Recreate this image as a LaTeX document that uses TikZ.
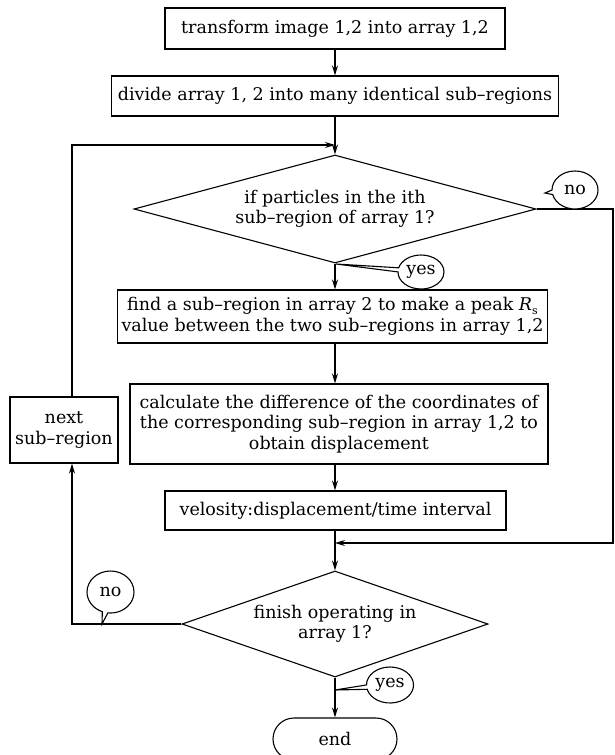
\documentclass[tikz,border=0pt]{standalone}
\usepackage{fontspec}
\setmainfont{DejaVu Serif}
\usetikzlibrary{shapes.geometric,shapes.misc,shapes.callouts,arrows.meta}
\begin{document}
\begin{tikzpicture}[x=1pt,y=-1pt,
  line width=1.1pt,
  every node/.style={font=\fontsize{17.5}{20.5}\selectfont},
  box/.style={draw, rectangle, align=center, inner xsep=6pt, inner ysep=0pt},
  dia/.style={draw, diamond, inner sep=0pt},
  txt/.style={align=center, inner sep=0pt},
  bubble/.style={draw, fill=white, ellipse callout, inner sep=0pt, callout pointer arc=14},
  arr/.style={-{Stealth[length=10pt,width=6pt]}},
]
\useasboundingbox (0,0) rectangle (615,755);
\fill[white] (0,0) rectangle (615,755);

\coordinate (rx) at (613,0);
\coordinate (lx) at (72,0);
\coordinate (jt) at (335,145);
\coordinate (jb) at (335,543);

\node[box, minimum width=340pt, minimum height=41pt] (b1) at (335,28.5) {transform image 1,2 into array 1,2};
\node[box, minimum height=40pt] (b2) at (335,96) {divide array 1, 2 into many identical sub--regions};
\node[dia, minimum width=402pt, minimum height=108pt] (d1) at (335,209) {};
\node[txt] (d1t) at (d1.center) {if particles in the ith\\sub--region of array 1?};
\node[box, anchor=east, inner xsep=4pt, minimum height=53pt] (b3) at (548,316.5) {find a sub--region in array 2 to make a peak \textit{R}\raisebox{-4pt}{\fontsize{11}{12}\selectfont s}\\value between the two sub--regions in array 1,2};
\node[box, minimum width=418pt, minimum height=80pt] (b4) at (339,424) {calculate the difference of the coordinates of\\the corresponding sub--region in array 1,2 to\\obtain displacement};
\node[box, minimum width=341pt, minimum height=39pt] (b5) at (335.5,510.5) {velosity:displacement/time interval};
\node[dia, minimum width=306pt, minimum height=106pt] (d2) at (335,624) {};
\node[txt] (d2t) at (d2.center) {finish operating in\\array 1?};
\node[draw, rounded rectangle, minimum width=124pt, minimum height=42pt, inner sep=0pt] (e) at (335,739) {end};
\node[box, inner xsep=0pt, minimum width=108pt, minimum height=66pt] (nb) at (64,430) {next\\sub--region};

\draw[arr] (b1.south) -- (b2.north);
\draw[arr] (b2.south) -- (d1.north);
\draw[arr] (d1.south) -- (d1.south |- b3.north);
\draw[arr] (d1.south |- b3.south) -- (d1.south |- b4.north);
\draw[arr] (d1.south |- b4.south) -- (d1.south |- b5.north);
\draw[arr] (d1.south |- b5.south) -- (d2.north);
\draw[arr] (d2.south) -- (e.north);
\draw[arr] (d1.east) -- (d1.east -| rx) -- (jb -| rx) -- (jb);
\draw[arr] (d2.west) -- (d2.west -| lx) -- (nb.south -| lx);
\draw[arr] (nb.north -| lx) -- (jt -| lx) -- (jt);

\node[bubble, minimum width=46pt, minimum height=38pt, callout absolute pointer={(545,193)}] (no1) at (575,190) {no};
\node[bubble, minimum width=46pt, minimum height=34pt, callout absolute pointer={(336,264)}] (yes1) at (421,272) {yes};
\node[bubble, minimum width=47pt, minimum height=42pt, callout absolute pointer={(102,624)}] (no2) at (110.5,592) {no};
\node[bubble, minimum width=47pt, minimum height=36pt, callout absolute pointer={(335,690)}] (yes2) at (390,685) {yes};
\end{tikzpicture}
\end{document}
